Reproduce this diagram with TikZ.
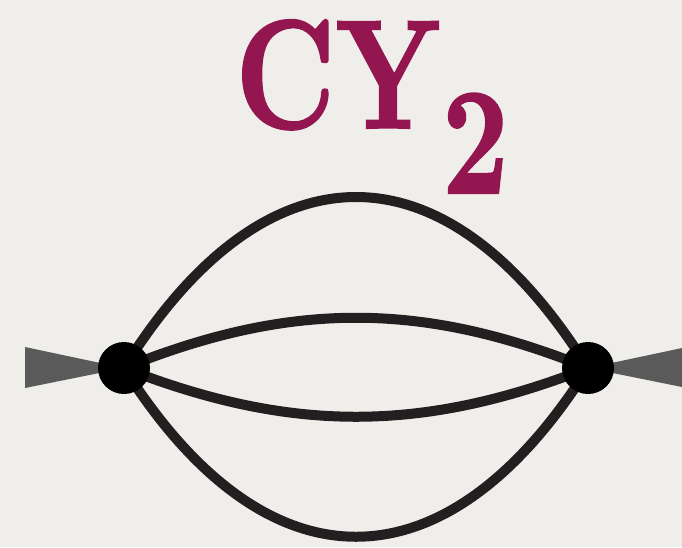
\documentclass[tikz,border=0pt]{standalone}
\usepackage{fontspec}
\newfontfamily\lblfont[FakeBold=1.5]{lmroman10-bold.otf}
\definecolor{bgc}{RGB}{239,238,234}
\definecolor{maroon}{RGB}{147,22,80}
\definecolor{linec}{RGB}{35,31,32}
\definecolor{trig}{RGB}{90,90,90}
\begin{document}
\begin{tikzpicture}[x=1pt,y=-1pt,
  prop/.style={line width=10pt,draw=linec},
  vtx/.style={circle,fill=black,minimum size=52pt,inner sep=0pt},
  legfill/.style={fill=trig},
  lbl/.style={anchor=base west,inner sep=0pt,text=maroon,font=\lblfont}]
\fill[bgc] (0,0) rectangle (682,547);
\useasboundingbox (0,0) rectangle (682,547);
\coordinate (L) at (124,368);
\coordinate (R) at (588,368);
\coordinate (la) at (25,347);
\coordinate (lb) at (25,388);
\coordinate (ra) at (682,348);
\coordinate (rb) at (682,387);
\fill[legfill] (la) -- (lb) -- (L) -- cycle;
\fill[legfill] (ra) -- (rb) -- (R) -- cycle;
\draw[prop] (L) .. controls +(142,-228) and +(-142,-228) .. (R);
\draw[prop] (L) .. controls +(166,-67) and +(-166,-67) .. (R);
\draw[prop] (L) .. controls +(166,65) and +(-166,65) .. (R);
\draw[prop] (L) .. controls +(142,225) and +(-142,225) .. (R);
\node[vtx] (Ldot) at (L) {};
\node[vtx] (Rdot) at (R) {};
\node[lbl,xscale=0.78] (cy) at (235,128) {\fontsize{155}{155}\selectfont CY};
\node[lbl,xscale=0.76] (two) at (442,193) {\fontsize{152}{152}\selectfont 2};
\end{tikzpicture}
\end{document}
